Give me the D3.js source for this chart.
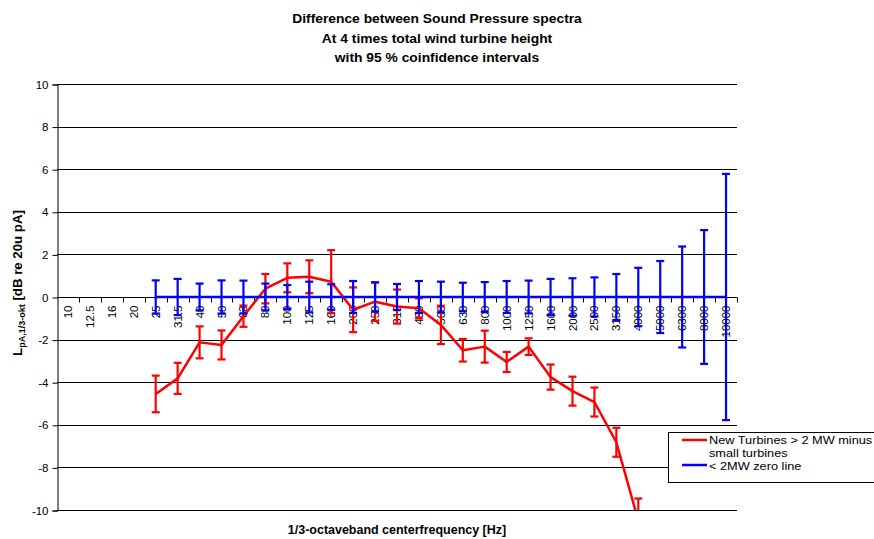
<!DOCTYPE html>
<html>
<head>
<meta charset="utf-8">
<script src="https://cdn.jsdelivr.net/npm/d3@7"></script>
<style>
  html, body { margin: 0; padding: 0; background: #fff; }
  svg { display: block; font-family: "Liberation Sans", Arial, sans-serif; }
</style>
</head>
<body>
<svg id="chart" width="874" height="539"></svg>
<script>
// ---- Data ----
const categories = ["10","12.5","16","20","25","31.5","40","50","63","80","100","125","160","200","250","315","400","500","630","800","1000","1250","1600","2000","2500","3150","4000","5000","6300","8000","10000"];
// New Turbines > 2 MW minus small turbines (difference, dB) and 95% CI half-width
const redCats   = ["25","31.5","40","50","63","80","100","125","160","200","250","315","400","500","630","800","1000","1250","1600","2000","2500","3150","4000"];
const redValues = [-4.55,-3.82,-2.13,-2.25,-0.9,0.39,0.9,0.95,0.72,-0.6,-0.22,-0.45,-0.53,-1.31,-2.5,-2.33,-3.05,-2.33,-3.76,-4.42,-4.93,-6.82,-10.5];
const redErr    = [0.86,0.73,0.75,0.68,0.5,0.69,0.68,0.77,1.48,1.05,0.9,0.8,0.47,0.9,0.53,0.75,0.47,0.39,0.59,0.68,0.68,0.68,1.04];
// < 2MW zero line and 95% CI half-width
const blueCats   = ["25","31.5","40","50","63","80","100","125","160","200","250","315","400","500","630","800","1000","1250","1600","2000","2500","3150","4000","5000","6300","8000","10000"];
const blueValues = [0,0,0,0,0,0,0,0,0,0,0,0,0,0,0,0,0,0,0,0,0,0,0,0,0,0,0];
const blueErr    = [0.78,0.85,0.63,0.78,0.77,0.63,0.56,0.72,0.6,0.75,0.69,0.61,0.75,0.72,0.67,0.7,0.75,0.77,0.85,0.88,0.92,1.08,1.37,1.69,2.37,3.14,5.78];
const yTicks = [-10,-8,-6,-4,-2,0,2,4,6,8,10];
const titleLines = ["Difference between Sound Pressure spectra","At 4 times total wind turbine height","with 95 % coinfidence intervals"];
const legendItems = [
  {label: ["New Turbines > 2 MW minus", "small turbines"], color: "#ff0000"},
  {label: ["< 2MW zero line"], color: "#0000ff"}
];

// ---- Layout ----
const svg = d3.select("#chart");
const L = 57, R = 737, T = 84, B = 510;
const x = d3.scaleBand().domain(categories).range([L, R]).padding(0);
const y = d3.scaleLinear().domain([-10, 10]).range([B, T]);
const cx = c => x(c) + x.bandwidth() / 2;

// Title (slightly wide glyphs as in reference)
svg.append("g").selectAll("text").data(titleLines).join("text")
  .attr("transform", (d, i) => `translate(437,${23 + i * 19.5}) scale(1.065,1)`)
  .attr("text-anchor", "middle").attr("font-size", 13).attr("font-weight", "bold")
  .text(d => d);

// Gridlines
svg.append("g").selectAll("line").data(yTicks.filter(t => t !== 0)).join("line")
  .attr("x1", L).attr("x2", R)
  .attr("y1", d => Math.round(y(d)) + 0.5).attr("y2", d => Math.round(y(d)) + 0.5)
  .attr("stroke", "#000").attr("stroke-width", 1);

// Y axis
const yAxis = d3.axisLeft(y).tickValues(yTicks).tickSize(5).tickPadding(4).tickFormat(d => String(d));
const yg = svg.append("g").attr("transform", `translate(${L + 0.5},0.5)`).call(yAxis);
yg.select(".domain").attr("stroke", "#000");
yg.selectAll("text").attr("font-size", 11.5).attr("font-family", "Liberation Sans, Arial, sans-serif").attr("fill", "#000");

// X axis at y=0 (ticks at category boundaries)
const y0 = Math.round(y(0)) + 0.5;
svg.append("line").attr("x1", L).attr("x2", R).attr("y1", y0).attr("y2", y0).attr("stroke", "#000");
const bounds = categories.map(c => x(c)).concat([R]).slice(1);
svg.append("g").selectAll("line").data(bounds).join("line")
  .attr("x1", d => Math.round(d) + 0.5).attr("x2", d => Math.round(d) + 0.5)
  .attr("y1", y0).attr("y2", y0 + 5).attr("stroke", "#000");

// Category labels (rotated)
svg.append("g").selectAll("text").data(categories).join("text")
  .attr("transform", d => `translate(${cx(d)},${y0 + 8}) rotate(-90)`)
  .attr("text-anchor", "end").attr("dy", "0.35em")
  .attr("font-size", 11.5).text(d => d);

// Axis titles
svg.append("text").attr("transform", "translate(397,534) scale(1.04,1)").attr("text-anchor", "middle")
  .attr("font-size", 12).attr("font-weight", "bold").text("1/3-octaveband centerfrequency [Hz]");
const yl = svg.append("text").attr("transform", "translate(22,283) rotate(-90) scale(1.06,1)")
  .attr("text-anchor", "middle").attr("font-size", 12.5).attr("font-weight", "bold");
yl.append("tspan").text("L");
yl.append("tspan").attr("font-size", 8.5).attr("dy", 3).text("pA,1/3-okt");
yl.append("tspan").attr("dy", -3).text(" [dB re 20u pA]");

// Clip
svg.append("clipPath").attr("id", "plotclip").append("rect")
  .attr("x", L).attr("y", T - 2).attr("width", R - L + 2).attr("height", B - T + 2);
const plot = svg.append("g").attr("clip-path", "url(#plotclip)");

function drawSeries(cats, vals, errs, color) {
  const g = plot.append("g");
  const data = cats.map((c, i) => ({c, v: vals[i], e: errs[i]}));
  const line = d3.line().x(d => cx(d.c)).y(d => y(d.v));
  g.append("path").datum(data).attr("d", line)
    .attr("fill", "none").attr("stroke", color).attr("stroke-width", 2.5).attr("stroke-linejoin", "round");
  const eb = g.selectAll("g.eb").data(data).join("g").attr("class", "eb");
  eb.append("line").attr("x1", d => cx(d.c)).attr("x2", d => cx(d.c))
    .attr("y1", d => y(d.v + d.e)).attr("y2", d => y(d.v - d.e))
    .attr("stroke", color).attr("stroke-width", 2.2);
  [1, -1].forEach(s => {
    eb.append("line").attr("x1", d => cx(d.c) - 4).attr("x2", d => cx(d.c) + 4)
      .attr("y1", d => y(d.v + s * d.e)).attr("y2", d => y(d.v + s * d.e))
      .attr("stroke", color).attr("stroke-width", 2.2);
  });
}
drawSeries(redCats, redValues, redErr, "#ff0000");
drawSeries(blueCats, blueValues, blueErr, "#0000ff");

// Legend
const lg = svg.append("g");
lg.append("rect").attr("x", 668.5).attr("y", 432.5).attr("width", 215).attr("height", 50)
  .attr("fill", "#fff").attr("stroke", "#000").attr("stroke-width", 1);
const lineYs = [440, 465];
const textYs = [[444, 456.5], [469.5]];
legendItems.forEach((it, i) => {
  lg.append("line").attr("x1", 682).attr("x2", 707).attr("y1", lineYs[i]).attr("y2", lineYs[i])
    .attr("stroke", it.color).attr("stroke-width", 2.5);
  it.label.forEach((t, j) => {
    lg.append("text").attr("transform", `translate(709,${textYs[i][j]}) scale(1.11,1)`)
      .attr("font-size", 11.5).text(t);
  });
});
</script>
</body>
</html>
